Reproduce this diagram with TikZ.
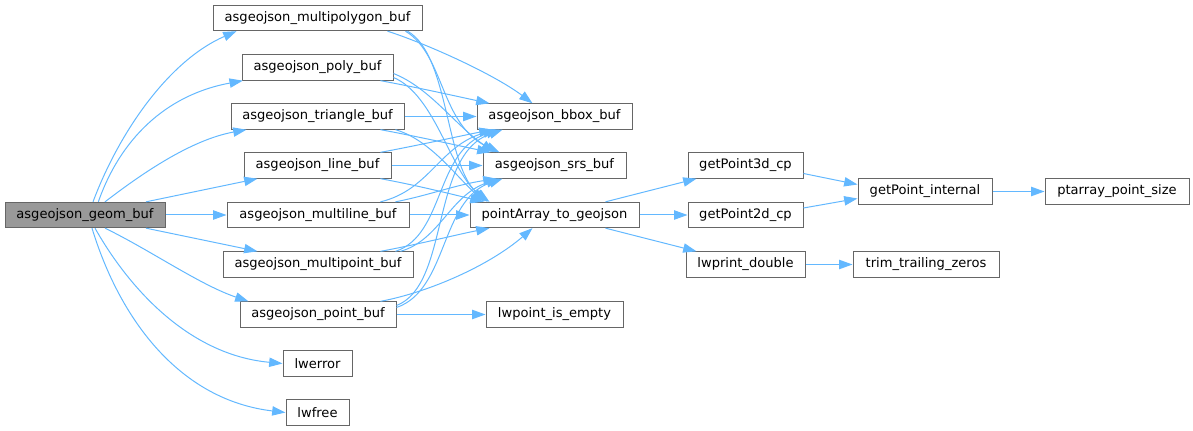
\documentclass[tikz,border=0pt]{standalone}
\usepackage{fontspec}
\setmainfont{DejaVu Sans}
\usetikzlibrary{arrows.meta}
\definecolor{edgeblue}{HTML}{63B8FF}
\definecolor{boxgray}{HTML}{666666}
\definecolor{rootgray}{HTML}{999999}
\begin{document}
\begin{tikzpicture}[x=0.75pt,y=-0.75pt,
    fn/.style={rectangle,draw=boxgray,line width=0.75pt,fill=white,minimum height=19pt,inner sep=0pt,font=\fontsize{9.8}{12}\selectfont},
    call/.style={draw=edgeblue,line width=0.75pt,-{Triangle[length=10pt,width=7pt]}}]
  \useasboundingbox (0,0) rectangle (1193,431);
  \node[fn,fill=rootgray,minimum width=120pt] (geom) at (85,215) {asgeojson\_geom\_buf};
  \node[fn,minimum width=156.75pt] (mpoly) at (317.5,18) {asgeojson\_multipolygon\_buf};
  \node[fn,minimum width=113.25pt] (poly) at (317.5,67.5) {asgeojson\_poly\_buf};
  \node[fn,minimum width=129.75pt] (tri) at (317.5,116.5) {asgeojson\_triangle\_buf};
  \node[fn,minimum width=110.25pt] (line) at (317.5,165.5) {asgeojson\_line\_buf};
  \node[fn,minimum width=136.5pt] (mline) at (318,215) {asgeojson\_multiline\_buf};
  \node[fn,minimum width=142.5pt] (mpoint) at (318,264.5) {asgeojson\_multipoint\_buf};
  \node[fn,minimum width=117pt] (point) at (318,314.5) {asgeojson\_point\_buf};
  \node[fn,minimum width=51.75pt] (err) at (317.5,363.5) {lwerror};
  \node[fn,minimum width=47.25pt] (free) at (317.5,412.5) {lwfree};
  \node[fn,minimum width=116.25pt] (bbox) at (554.5,116.5) {asgeojson\_bbox\_buf};
  \node[fn,minimum width=107.25pt] (srs) at (554.5,165.5) {asgeojson\_srs\_buf};
  \node[fn,minimum width=126.75pt] (pa) at (554.5,215) {pointArray\_to\_geojson};
  \node[fn,minimum width=102.75pt] (empty) at (554.5,314.5) {lwpoint\_is\_empty};
  \node[fn,minimum width=86.25pt] (gp3) at (745.5,165.5) {getPoint3d\_cp};
  \node[fn,minimum width=86.25pt] (gp2) at (745.5,215) {getPoint2d\_cp};
  \node[fn,minimum width=89.25pt] (prt) at (745.5,264.5) {lwprint\_double};
  \node[fn,minimum width=100.5pt] (gpi) at (925,191.5) {getPoint\_internal};
  \node[fn,minimum width=109.5pt] (trim) at (926,264.5) {trim\_trailing\_zeros};
  \node[fn,minimum width=108pt] (psize) at (1117,191.5) {ptarray\_point\_size};

  \draw[call] ([xshift=6pt]geom.north) .. controls (120,130) and (170,60) .. ([xshift=18pt]mpoly.south west);
  \draw[call] ([xshift=10pt]geom.north) .. controls (120,140) and (165,95) .. ([xshift=1pt]poly.south west);
  \draw[call] ([xshift=15pt]geom.north) .. controls (140,175) and (190,140) .. ([xshift=12pt]tri.south west);
  \draw[call] ([xshift=45.75pt]geom.north) -- ([xshift=10.5pt]line.south west);
  \draw[call] (geom.east) -- (mline.west);
  \draw[call] ([xshift=45.75pt]geom.south) -- ([xshift=26.25pt]mpoint.north west);
  \draw[call] ([xshift=15pt]geom.south) .. controls (150,250) and (200,285) .. ([xshift=6.75pt]point.north west);
  \draw[call] ([xshift=7.5pt]geom.south) .. controls (130,290) and (190,355) .. (err.west);
  \draw[call] ([xshift=5.25pt]geom.south) .. controls (120,320) and (180,400) .. (free.west);

  \draw[call] ([xshift=-26.25pt]mpoly.south east) .. controls (430,45) and (495,75) .. ([xshift=42pt]bbox.north west);
  \draw[call] ([xshift=-12.75pt]mpoly.south east) .. controls (445,55) and (440,125) .. ([xshift=12.75pt]srs.north west);
  \draw[call] ([xshift=-11.25pt]mpoly.south east) .. controls (450,55) and (445,170) .. ([xshift=15pt]pa.north west);
  \draw[call] ([xshift=-9.75pt]poly.south east) .. controls (420,88) and (460,97) .. ([xshift=9.75pt]bbox.north west);
  \draw[call] ([yshift=-4.5pt]poly.east) .. controls (430,88) and (455,125) .. ([xshift=9pt]srs.north west);
  \draw[call] ([yshift=-7.5pt]poly.east) .. controls (435,95) and (450,170) .. ([xshift=13.5pt]pa.north west);
  \draw[call] (tri.east) -- (bbox.west);
  \draw[call] ([xshift=-18pt]tri.south east) .. controls (420,137) and (460,146) .. ([xshift=6pt]srs.north west);
  \draw[call] ([xshift=-6.75pt]tri.south east) .. controls (430,140) and (455,175) .. ([xshift=11.25pt]pa.north west);
  \draw[call] ([xshift=-8.25pt]line.north east) .. controls (420,145) and (460,136) .. ([xshift=12pt]bbox.south west);
  \draw[call] (line.east) -- (srs.west);
  \draw[call] ([xshift=-8.25pt]line.south east) .. controls (420,186) and (455,195) .. ([xshift=10.5pt]pa.north west);
  \draw[call] ([xshift=-21.75pt]mline.north east) .. controls (430,190) and (440,145) .. ([xshift=15pt]bbox.south west);
  \draw[call] ([xshift=-10.5pt]mline.north east) .. controls (430,195) and (455,185) .. ([xshift=10.5pt]srs.south west);
  \draw[call] (mline.east) -- (pa.west);
  \draw[call] ([xshift=-13.5pt]mpoint.north east) .. controls (445,235) and (435,150) .. ([xshift=17.25pt]bbox.south west);
  \draw[call] ([xshift=-9.75pt]mpoint.north east) .. controls (440,240) and (450,195) .. ([xshift=12.75pt]srs.south west);
  \draw[call] ([xshift=-24.75pt]mpoint.north east) .. controls (420,244) and (455,235) .. ([xshift=15pt]pa.south west);
  \draw[call] ([yshift=6.75pt]point.east) .. controls (450,285) and (430,155) .. ([xshift=19.5pt]bbox.south west);
  \draw[call] ([yshift=5.25pt]point.east) .. controls (448,290) and (440,200) .. ([xshift=15pt]srs.south west);
  \draw[call] ([xshift=-12pt]point.north east) .. controls (430,292) and (490,265) .. ([xshift=47.25pt]pa.south west);
  \draw[call] (point.east) -- (empty.west);

  \draw[call] ([xshift=-25.5pt]pa.north east) -- ([xshift=6.75pt]gp3.south west);
  \draw[call] (pa.east) -- (gp2.west);
  \draw[call] ([xshift=-25.5pt]pa.south east) -- ([xshift=8.25pt]prt.north west);
  \draw[call] ([yshift=-6pt]gp3.east) -- ([yshift=5.25pt]gpi.west);
  \draw[call] ([yshift=5.25pt]gp2.east) -- ([yshift=-5.25pt]gpi.west);
  \draw[call] (gpi.east) -- (psize.west);
  \draw[call] (prt.east) -- (trim.west);
\end{tikzpicture}
\end{document}
